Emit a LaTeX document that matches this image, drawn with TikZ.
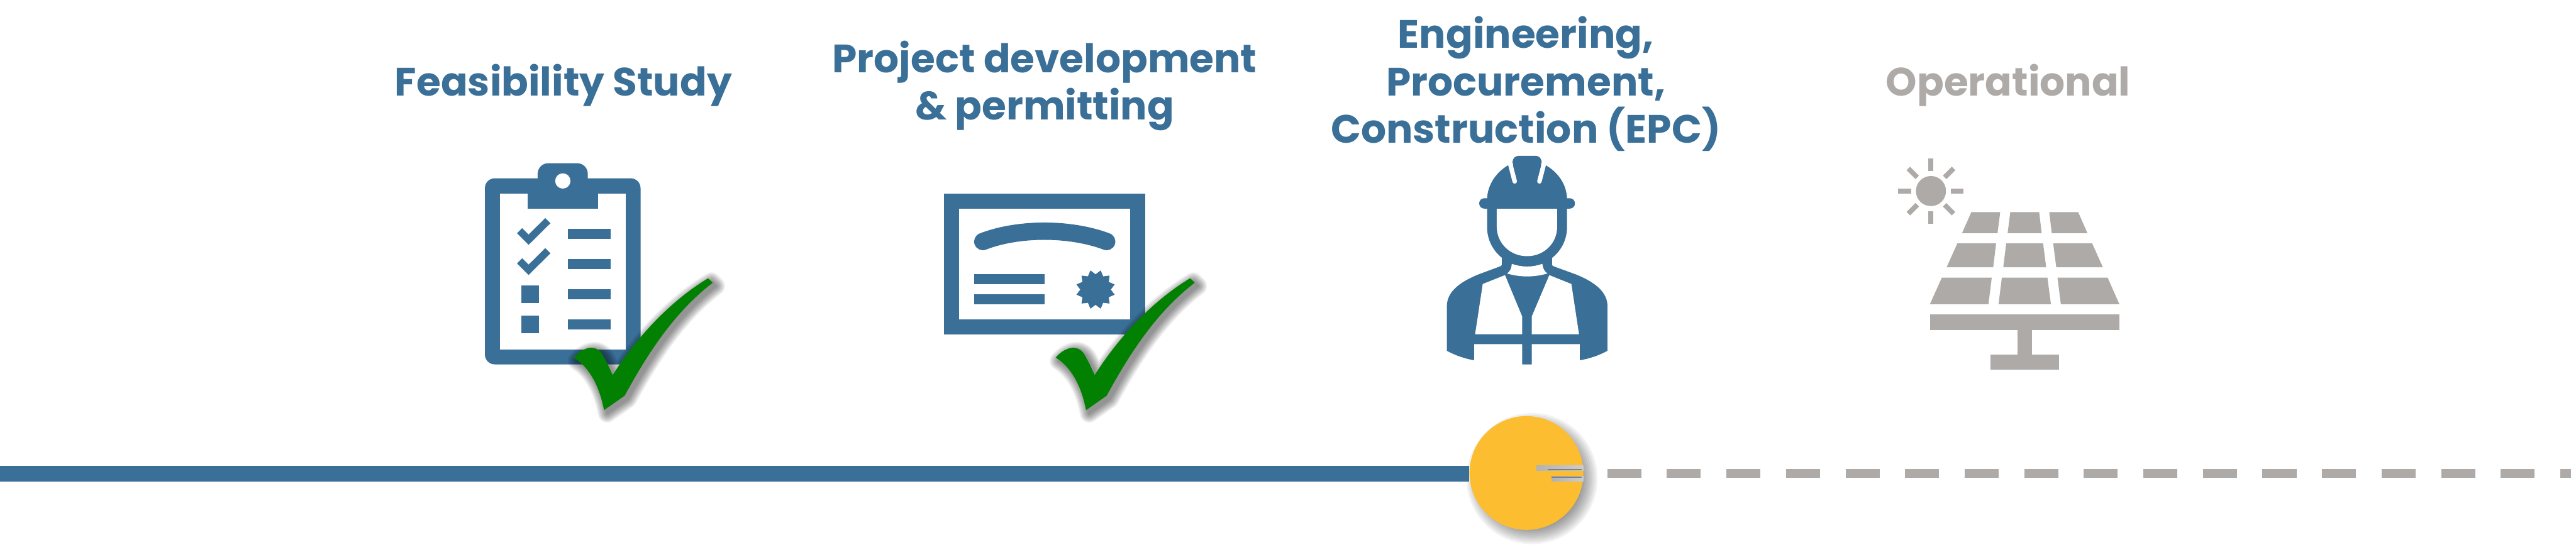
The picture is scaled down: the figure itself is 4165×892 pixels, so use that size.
\documentclass[tikz,border=0pt]{standalone}
\usepackage{fontspec}
\usetikzlibrary{calc}
\setmainfont{Poppins Bold}
\definecolor{steel}{HTML}{3A6F98}
\definecolor{ash}{HTML}{AEAAA8}
\definecolor{sun}{HTML}{FDBD30}
\definecolor{tickgreen}{HTML}{028002}
\tikzset{
  title/.style={font=\fontsize{64}{77}\selectfont,align=center,inner sep=0pt,anchor=base},
  zoomed/.style={shift={#1},x=0.33333pt,y=-0.33333pt},
  softshadow/.style={fill=black,draw=black,line join=round}
}
\def\tickpath{(683,1075) .. controls (720,1030) and (790,1000) .. (825,1065) .. controls (845,1100) and (860,1135) .. (872,1160) .. controls (960,1020) and (1120,820) .. (1335,690) -- (1357,712) .. controls (1190,840) and (1060,1020) .. (930,1260) -- (830,1330) .. controls (810,1230) and (770,1130) .. (683,1075) -- cycle}
\newcommand{\greentick}{%
  \foreach \w in {30,27,24,21,18,15,12,9,6,3}{
    \begin{scope}[transparency group,opacity=0.05,shift={(15,16)}]
      \path[softshadow,line width=\w pt] \tickpath;
    \end{scope}
  }
  \fill[tickgreen] \tickpath;
}
\begin{document}
\begin{tikzpicture}[x=1pt,y=-1pt]
\useasboundingbox (0,0) rectangle (4165,892);
\fill[white] (0,0) rectangle (4165,892);

% titles
\node[title,text=steel] (t1) at (911,155) {Feasibility Study};
\node[title,text=steel] (t2) at (1689,194) {Project development\\\& permitting};
\node[title,text=steel] (t3) at (2467,231.7) {Engineering,\\Procurement,\\Construction (EPC)};
\node[title,text=ash] (t4) at (3247,155) {Operational};

% clipboard
\begin{scope}[zoomed={(700,220)}]
  \fill[steel,rounded corners=16pt] (252,205) rectangle (1007,1108);
  \fill[steel,rounded corners=17pt] (508,132) rectangle (751,300);
  \fill[white] (325,280) rectangle (935,1035);
  \fill[steel] (459,260) rectangle (800,352);
  \fill[white] (630,218) circle[radius=37];
  \foreach \d in {0,146}{
    \fill[steel,shift={(0,\d)}] (408,472) -- (433,447) -- (464,478) -- (545,398) -- (570,423) -- (464,528) -- cycle;
  }
  \foreach \a/\b in {724/810,870/956}{\fill[steel] (429,\a) rectangle (514,\b);}
  \foreach \a/\b in {450/499,596/645,743/792,889/938}{\fill[steel] (654,\a) rectangle (861,\b);}
  \greentick
\end{scope}

% certificate
\begin{scope}[zoomed={(1480,280)}]
  \fill[steel] (139,100) rectangle (1114,782);
  \fill[white] (212,173) rectangle (1041,709);
  \draw[steel,line width=28pt,line cap=round] (327,332) .. controls (500,265) and (750,265) .. (928,332);
  \foreach \a/\b in {490/539,587/636}{\fill[steel] (285,\a) rectangle (627,\b);}
  \fill[steel] ($(874,565)+(15:96)$)
    \foreach \k in {1,...,12}{ -- ($(874,565)+({30*\k}:74)$) -- ($(874,565)+({15+30*\k}:96)$)} -- cycle;
\end{scope}
\begin{scope}[zoomed={(1480,280)}]
  \begin{scope}[shift={(-2,-180)}]\greentick\end{scope}
\end{scope}

% worker
\begin{scope}[zoomed={(2300,230)}]
  % body
  \fill[steel] (385,540) -- (385,592) .. controls (385,598) and (382,601) .. (375,603) -- (270,642) .. controls (215,665) and (118,710) .. (118,795) -- (118,1012) .. controls (160,1035) and (205,1050) .. (250,1058) -- (250,980) -- (483,980) -- (483,1078) -- (530,1078) -- (530,980) -- (763,980) -- (763,1058) .. controls (810,1050) and (855,1035) .. (897,1012) -- (897,795) .. controls (897,710) and (800,665) .. (745,642) -- (638,603) .. controls (631,601) and (628,598) .. (628,592) -- (628,540) -- cycle;
  % collar
  \fill[white] (433,590) .. controls (480,607) and (535,607) .. (581,590) .. controls (583,612) and (592,628) .. (606,637) .. controls (540,656) and (475,656) .. (410,637) .. controls (424,628) and (432,612) .. (433,590) -- cycle;
  % vest
  \fill[white] (292,688) -- (400,645) -- (483,845) -- (483,932) -- (255,932) -- cycle;
  \fill[white] (722,688) -- (615,645) -- (530,845) -- (530,932) -- (759,932) -- cycle;
  % head
  \fill[steel] (313,300) -- (313,410) .. controls (313,520) and (400,602) .. (507,602) .. controls (614,602) and (701,520) .. (701,410) -- (701,300) -- cycle;
  \fill[white] (360,322) -- (360,410) .. controls (360,490) and (425,553) .. (507,553) .. controls (589,553) and (653,490) .. (653,410) -- (653,322) -- cycle;
  % helmet
  \fill[steel] (313,272) .. controls (318,200) and (360,145) .. (415,112) -- (598,112) .. controls (655,145) and (697,200) .. (701,272) -- (701,322) -- (313,322) -- cycle;
  \fill[steel,rounded corners=8pt] (275,272) rectangle (739,322);
  \draw[white,line width=7.3pt,line cap=round] (420,85) -- (447,190);
  \draw[white,line width=7.3pt,line cap=round] (594,85) -- (567,190);
  \fill[steel] (436,95) .. controls (440,75) and (450,66) .. (470,66) -- (545,66) .. controls (565,66) and (574,75) .. (578,95) -- (556,180) -- (458,180) -- cycle;
\end{scope}

% solar panel
\begin{scope}[zoomed={(3040,240)}]
  \fill[ash] (246,207) circle[radius=73];
  \foreach \a in {0,90,180,270}{\draw[ash,line width=8pt] ($(246,207)+(\a:97)$) -- ($(246,207)+(\a:159)$);}
  \foreach \a in {45,135,225,315}{\draw[ash,line width=8pt] ($(246,207)+(\a:94)$) -- ($(246,207)+(\a:155)$);}
  \fill[ash] (442,309) -- (582,309) -- (569,411) -- (397,411) -- cycle;
  \fill[ash] (631,309) -- (771,309) -- (783,411) -- (618,411) -- cycle;
  \fill[ash] (820,309) -- (960,309) -- (1005,411) -- (832,411) -- cycle;
  \fill[ash] (374,461) -- (562,461) -- (548,577) -- (322,577) -- cycle;
  \fill[ash] (611,461) -- (790,461) -- (805,577) -- (597,577) -- cycle;
  \fill[ash] (839,461) -- (1028,461) -- (1080,577) -- (854,577) -- cycle;
  \fill[ash] (299,627) -- (541,627) -- (525,756) -- (241,756) -- cycle;
  \fill[ash] (590,627) -- (811,627) -- (828,756) -- (574,756) -- cycle;
  \fill[ash] (860,627) -- (1103,627) -- (1160,756) -- (876,756) -- cycle;
  \fill[ash] (241,805) rectangle (1160,883);
  \fill[ash] (665,883) rectangle (737,1000);
  \fill[ash] (535,1000) rectangle (867,1073);
\end{scope}

% timeline
\coordinate (linestart) at (0,766);
\coordinate (dashstart) at (2598.7,766);
\coordinate (dashend) at (4157.3,766);
\foreach \w in {56,50,44,38,32,26,20,14,8,2}{
  \begin{scope}[transparency group,opacity=0.05]
    \path[softshadow,line width=\w pt] (2477,774) circle[radius=78];
  \end{scope}
}
\node[circle,fill=sun,minimum size=184pt,inner sep=0pt] (c) at (2468,765) {};
\draw[steel,line width=26pt] (linestart) -- (linestart -| c.west);
\draw[ash,line width=14pt,dash pattern=on 55pt off 41.3pt] (dashstart) -- (dashend);
% notch in the marker
\shade[left color=black!30,right color=black!20] (2484,752.7) rectangle (2560,761);
\shade[left color=black!30,right color=black!20] (2508.7,770) rectangle (2560,778.3);
\fill[black!50] (2502,759) rectangle (2557.7,761);
\fill[black!50] (2508.7,770.3) rectangle (2557.7,772.7);
\end{tikzpicture}
\end{document}
